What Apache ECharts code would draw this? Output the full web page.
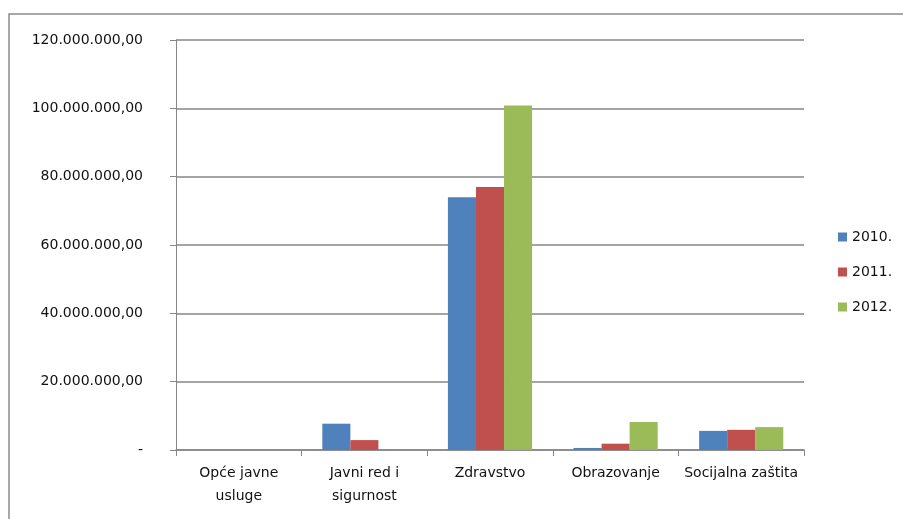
<!DOCTYPE html>
<html>
<head>
<meta charset="utf-8">
<script src="https://cdn.jsdelivr.net/npm/echarts@6/dist/echarts.min.js"></script>
<style>html,body{margin:0;padding:0;background:#fff}#c{width:903px;height:519px}</style>
</head>
<body>
<div id="c"></div>
<script>
const categories = ['Opće javne\nusluge', 'Javni red i\nsigurnost', 'Zdravstvo', 'Obrazovanje', 'Socijalna zaštita'];
const seriesNames = ['2010.', '2011.', '2012.'];
const values2010 = [0, 7700000, 74000000, 600000, 5600000];
const values2011 = [0, 2900000, 77000000, 1850000, 5900000];
const values2012 = [0, 0, 100800000, 8200000, 6700000];
const yTicks = [0, 20000000, 40000000, 60000000, 80000000, 100000000, 120000000];
const colors = ['#4F81BD', '#C0504D', '#9BBB59'];

function fmt(v) {
  if (v === 0) return '-';
  const s = Math.round(v).toString().replace(/\B(?=(\d{3})+(?!\d))/g, '.');
  return s + ',00';
}

const font = 'DejaVu Sans';
const chart = echarts.init(document.getElementById('c'), null, {renderer: 'canvas'});
const data = [values2010, values2011, values2012];
chart.setOption({
  animation: false,
  textStyle: {fontFamily: font},
  color: colors,
  graphic: [{
    type: 'rect', shape: {x: 9, y: 14, width: 1000, height: 1000},
    style: {fill: 'none', stroke: '#8a8a8a', lineWidth: 1.5}, silent: true, z: -1
  }],
  grid: {left: 176, right: 99, top: 40, bottom: 69, containLabel: false},
  legend: {
    orient: 'vertical', left: 833, top: 225,
    itemWidth: 9, itemHeight: 9, itemGap: 21, icon: 'rect',
    data: seriesNames,
    textStyle: {fontFamily: font, fontSize: 14, color: '#111'}
  },
  xAxis: {
    type: 'category', data: categories,
    axisLine: {lineStyle: {color: '#868686', width: 1.5}},
    axisTick: {show: true, length: 6, lineStyle: {color: '#868686', width: 1}},
    axisLabel: {fontFamily: font, fontSize: 14, color: '#111', margin: 12, lineHeight: 23, interval: 0}
  },
  yAxis: {
    type: 'value', min: 0, max: 120000000, interval: 20000000,
    axisLine: {show: true, lineStyle: {color: '#868686', width: 1}},
    axisTick: {show: true, length: 6, lineStyle: {color: '#868686'}},
    splitLine: {lineStyle: {color: '#868686', width: 1.5}},
    axisLabel: {fontFamily: font, fontSize: 14, color: '#111', margin: 33, formatter: fmt}
  },
  series: seriesNames.map((n, i) => ({
    name: n, type: 'bar', data: data[i],
    barGap: '0%', barCategoryGap: '33%'
  }))
});
</script>
</body>
</html>
